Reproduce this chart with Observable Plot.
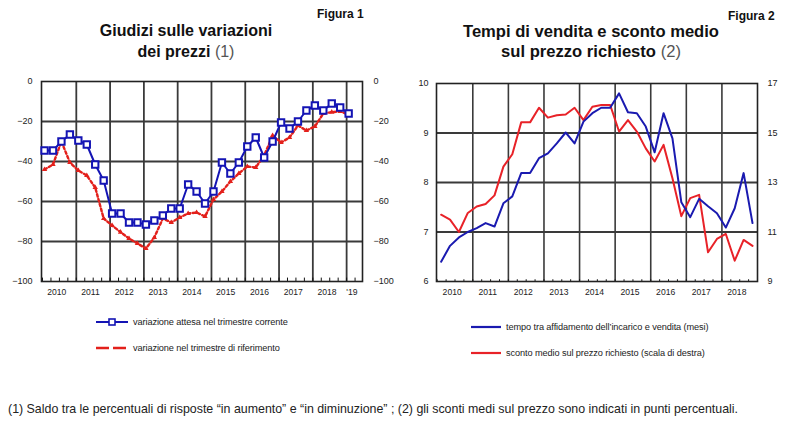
<!DOCTYPE html>
<html>
<head>
<meta charset="utf-8">
<script src="https://cdn.jsdelivr.net/npm/d3@7"></script>
<script src="https://cdn.jsdelivr.net/npm/@observablehq/plot@0.6"></script>
<style>
  html, body { margin:0; padding:0; background:#fff; }
  body { width:800px; height:436px; position:relative; overflow:hidden; font-family:"Liberation Sans", Arial, sans-serif; color:#111; }
  .abs { position:absolute; }
  .title { font-weight:bold; text-align:center; color:#111; }
  .fig { font-weight:bold; font-size:12px; }
  .leg { font-family:"Liberation Sans", Arial, sans-serif; font-size:9.2px; color:#222; display:flex; align-items:center; white-space:nowrap; letter-spacing:-0.1px; }
  .leg svg { margin-right:5px; }
</style>
</head>
<body>
<div class="abs fig" style="left:317px; top:7px;">Figura 1</div>
<div class="abs fig" style="left:728px; top:9px;">Figura 2</div>
<div class="abs title" style="left:0; width:372px; top:20px; font-size:16px; line-height:21px;">Giudizi sulle variazioni<br>dei prezzi <span style="font-weight:normal;color:#555">(1)</span></div>
<div class="abs title" style="left:400px; width:382px; top:22px; font-size:16.6px; line-height:20px;">Tempi di vendita e sconto medio<br>sul prezzo richiesto <span style="font-weight:normal;color:#555">(2)</span></div>
<div id="c1" class="abs" style="left:0; top:70px;"></div>
<div id="c2" class="abs" style="left:400px; top:70px;"></div>
<div id="l1" class="abs" style="left:96px; top:317px;"></div>
<div id="l2" class="abs" style="left:471px; top:322px;"></div>
<div class="abs" style="left:8px; top:402px; font-size:12.4px; color:#222; white-space:nowrap;">(1) Saldo tra le percentuali di risposte “in aumento” e “in diminuzione” ; (2) gli sconti medi sul prezzo sono indicati in punti percentuali.</div>
<script>
// ---------- Data: Figura 1 (quarterly) ----------
const quarters1 = ["2010Q1","2010Q2","2010Q3","2010Q4","2011Q1","2011Q2","2011Q3","2011Q4",
  "2012Q1","2012Q2","2012Q3","2012Q4","2013Q1","2013Q2","2013Q3","2013Q4",
  "2014Q1","2014Q2","2014Q3","2014Q4","2015Q1","2015Q2","2015Q3","2015Q4",
  "2016Q1","2016Q2","2016Q3","2016Q4","2017Q1","2017Q2","2017Q3","2017Q4",
  "2018Q1","2018Q2","2018Q3","2018Q4","2019Q1"];
const attesa = [-34.5,-34.5,-30,-26.5, -29.5,-31.5,-41.5,-49.5, -66,-66,-70.5,-70.5,
  -71.5,-69.5,-67,-63.5, -63.5,-51.5,-55,-61, -55,-40.5,-46,-40.5,
  -32.5,-28,-38,-30, -20.5,-23.5,-20,-14.5, -12,-14.5,-11,-13, -16];
const riferimento = [-44,-41.5,-30,-40.5, -44.5,-47,-53,-68.5, -72,-75.3,-78.5,-81,
  -83.5,-78,-68.5,-70.5, -68,-66,-65.5,-67.5, -59,-55,-50,-46,
  -42.5,-43,-37,-27, -30.5,-28,-22,-24.5, -22.5,-16,-15.3,-15, -16.5];
const yTicks1 = [0,-20,-40,-60,-80,-100];
const yearLabels1 = ["2010","2011","2012","2013","2014","2015","2016","2017","2018","'19"];

// ---------- Data: Figura 2 (quarterly) ----------
const quarters2 = quarters1.slice(0, 36);
const tempo = [6.40,6.72,6.89,7.00, 7.08,7.18,7.11,7.58, 7.72,8.19,8.19,8.49,
  8.59,8.79,9.01,8.79, 9.23,9.40,9.51,9.51, 9.80,9.42,9.40,9.13,
  8.61,9.40,8.89,7.60, 7.30,7.67,7.52,7.38, 7.09,7.48,8.19,7.18];
const sconto = [11.7,11.5,11.0,11.77, 12.03,12.13,12.48,13.64, 14.14,15.43,15.43,16.02,
  15.62,15.72,15.75,16.02, 15.52,16.06,16.13,16.13, 15.06,15.52,15.06,14.38,
  13.85,14.52,13.17,11.64, 12.37,12.50,10.18,10.72, 10.92,9.84,10.68,10.44];
const yTicksLeft2 = [6,7,8,9,10];
const yTicksRight2 = [9,11,13,15,17];
const yearLabels2 = ["2010","2011","2012","2013","2014","2015","2016","2017","2018"];

// ---------- helpers ----------
const BLUE1 = "#1414b4", RED1 = "#e3201b", BLUE2 = "#1a1ab0", RED2 = "#e82228";
const GRID = "#3a3a3a";
const qPos = (q, off) => +q.slice(0,4) + (+q.slice(5) - 1) * 0.25 + off;
const font = "Liberation Sans, Arial, sans-serif";

// ---------- Figura 1 ----------
{
  const d1 = quarters1.map((q, i) => ({x: qPos(q, 0.06), a: attesa[i], r: riferimento[i]}));
  const xDom = [2009.97, 2019.47];
  const labs = yearLabels1.map((l, i) => {
    const y = 2010 + i;
    const hi = Math.min(y + 1, xDom[1]);
    return {x: (y + hi) / 2 - 0.08, label: l};
  });
  const years = d3.range(2011, 2020);
  const qticks = d3.range(2010, 2019.5, 0.25);
  const chart = Plot.plot({
    width: 400, height: 230,
    marginLeft: 41, marginRight: 38, marginTop: 11, marginBottom: 19,
    x: {domain: xDom, axis: null},
    y: {domain: [-100, 0]},
    style: {fontFamily: font, fontSize: "9px", color: "#222", background: "transparent"},
    marks: [
      Plot.ruleY(yTicks1.filter(d => d > -100 && d < 0), {stroke: GRID, strokeWidth: 1.8}),
      Plot.ruleX(years, {stroke: GRID, strokeWidth: 1.8}),
      Plot.ruleX(qticks, {y1: -100, y2: -98.3, stroke: "#111", strokeWidth: 1}),
      Plot.frame({stroke: "#222", strokeWidth: 1.6}),
      Plot.axisY(yTicks1, {anchor: "left", tickSize: 0, tickPadding: 9, fontSize: 9}),
      Plot.axisY(yTicks1, {anchor: "right", tickSize: 0, tickPadding: 11, fontSize: 9}),
      Plot.text(labs, {x: "x", text: "label", frameAnchor: "bottom", lineAnchor: "top", dy: 7, fontSize: 8.6, letterSpacing: "-0.3px"}),
      Plot.line(d1, {x: "x", y: "r", stroke: RED1, strokeWidth: 2.4, strokeDasharray: "2.5,2.5"}),
      Plot.dot(d1, {x: "x", y: "r", symbol: "triangle", r: 2, fill: RED1, stroke: "none"}),
      Plot.line(d1, {x: "x", y: "a", stroke: BLUE1, strokeWidth: 2}),
      Plot.dot(d1, {x: "x", y: "a", symbol: "square", r: 3.6, fill: "white", stroke: BLUE1, strokeWidth: 2})
    ]
  });
  document.getElementById("c1").append(chart);
}

// ---------- Figura 2 ----------
{
  const toLeft = r => (r + 3) / 2;   // right scale (9..17) -> left scale (6..10)
  const d2 = quarters2.map((q, i) => ({x: qPos(q, 0.11), t: tempo[i], s: toLeft(sconto[i])}));
  const xDom = [2009.98, 2019.0];
  const labs = yearLabels2.map((l, i) => ({x: 2010 + i + 0.5 - 0.08, label: l}));
  const years = d3.range(2011, 2019);
  const qticks = d3.range(2010, 2019.01, 0.25);
  const chart = Plot.plot({
    width: 400, height: 230,
    marginLeft: 36, marginRight: 43, marginTop: 13, marginBottom: 19,
    x: {domain: xDom, axis: null},
    y: {domain: [6, 10]},
    style: {fontFamily: font, fontSize: "9px", color: "#222", background: "transparent"},
    marks: [
      Plot.ruleY(yTicksLeft2.filter(d => d > 6 && d < 10), {stroke: GRID, strokeWidth: 1.8}),
      Plot.ruleX(years, {stroke: GRID, strokeWidth: 1.6}),
      Plot.ruleX(qticks, {y1: 6, y2: 6.035, stroke: "#111", strokeWidth: 1}),
      Plot.frame({stroke: "#222", strokeWidth: 1.6}),
      Plot.axisY(yTicksLeft2, {anchor: "left", tickSize: 0, tickPadding: 8, fontSize: 9, tickFormat: d => String(d)}),
      Plot.axisY(yTicksRight2.map(toLeft), {anchor: "right", tickSize: 0, tickPadding: 10, fontSize: 9,
        tickFormat: d => String(Math.round(2 * d - 3))}),
      Plot.text(labs, {x: "x", text: "label", frameAnchor: "bottom", lineAnchor: "top", dy: 7, fontSize: 8.6, letterSpacing: "-0.3px"}),
      Plot.line(d2, {x: "x", y: "s", stroke: RED2, strokeWidth: 2}),
      Plot.line(d2, {x: "x", y: "t", stroke: BLUE2, strokeWidth: 2})
    ]
  });
  document.getElementById("c2").append(chart);
}

// ---------- Legends ----------
function legendItem(svg, text, mt) {
  return `<div class="leg" style="margin-top:${mt}px">${svg}<span>${text}</span></div>`;
}
const sqSwatch = `<svg width="32" height="10"><line x1="0" y1="5" x2="32" y2="5" stroke="${BLUE1}" stroke-width="2"/><rect x="13" y="2" width="6" height="6" fill="white" stroke="${BLUE1}" stroke-width="1.6"/></svg>`;
const dashSwatch = `<svg width="32" height="10"><line x1="0" y1="5" x2="32" y2="5" stroke="${RED1}" stroke-width="2.4" stroke-dasharray="13,4"/></svg>`;
const blueSwatch = `<svg width="30" height="10"><line x1="0" y1="5" x2="30" y2="5" stroke="${BLUE2}" stroke-width="2.2"/></svg>`;
const redSwatch = `<svg width="30" height="10"><line x1="0" y1="5" x2="30" y2="5" stroke="${RED2}" stroke-width="2.2"/></svg>`;
document.getElementById("l1").innerHTML =
  legendItem(sqSwatch, "variazione attesa nel trimestre corrente", 0) +
  legendItem(dashSwatch, "variazione nel trimestre di riferimento", 16);
document.getElementById("l2").innerHTML =
  legendItem(blueSwatch, "tempo tra affidamento dell’incarico e vendita (mesi)", 0) +
  legendItem(redSwatch, "sconto medio sul prezzo richiesto (scala di destra)", 16);
</script>
</body>
</html>
